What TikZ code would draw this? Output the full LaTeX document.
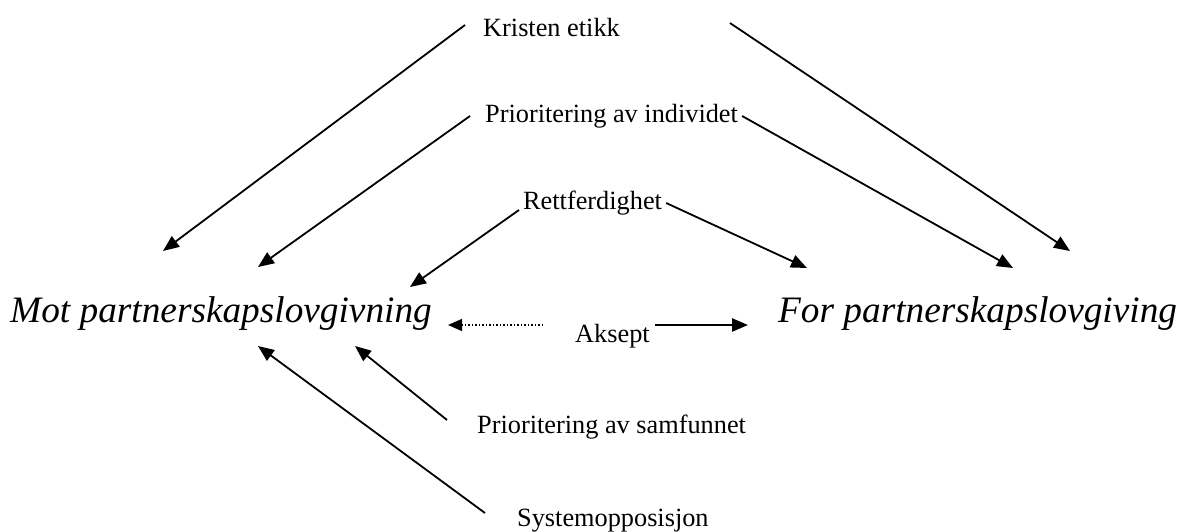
\documentclass[tikz,border=0pt]{standalone}
\usepackage{fontspec}
\setmainfont{Liberation Serif}
\usetikzlibrary{arrows.meta, calc}

\begin{document}
\begin{tikzpicture}[
  x=1pt, y=-1pt,
  lbl/.style={inner sep=0pt, anchor=base west, font=\fontsize{26.3}{30}\selectfont},
  bigtxt/.style={inner sep=0pt, anchor=base west, font=\fontsize{37.3}{42}\selectfont\itshape},
  arr/.style={-{Triangle[length=16pt, width=13pt]}, line width=1.8pt},
  thickarr/.style={-{Triangle[length=16pt, width=13pt]}, line width=2.6pt},
  dotarr/.style={-{Triangle[length=14pt, width=12pt]}, line width=1.5pt, dotted}
]
  \useasboundingbox (0,0) rectangle (1179,531);

  % labels
  \node[lbl] (kristen) at (483,36) {Kristen etikk};
  \node[lbl] (individ) at (485,122) {Prioritering av individet};
  \node[lbl] (rett) at (523,209) {Rettferdighet};
  \node[lbl] (aksept) at (575,342) {Aksept};
  \node[lbl] (samf) at (477,433) {Prioritering av samfunnet};
  \node[lbl] (system) at (517,526) {Systemopposisjon};
  \node[bigtxt] (mot) at (10,322) {Mot partnerskapslovgivning};
  \node[bigtxt] (for) at (778,322) {For partnerskapslovgiving};

  % arrow tips
  \coordinate (motK) at (163,251);
  \coordinate (motI) at (258,267);
  \coordinate (motR) at (410,287);
  \coordinate (motS) at (355,346);
  \coordinate (motY) at (258,346);
  \coordinate (forK) at (1070,251);
  \coordinate (forI) at (1013,268);
  \coordinate (forR) at (807,268);

  \draw[arr] ($(kristen.base west)+(-18,-11)$) -- (motK);
  \draw[arr] ($(kristen.base east)+(110,-13)$) -- (forK);
  \draw[arr] ($(individ.base west)+(-15,-6)$) -- (motI);
  \draw[arr] ($(individ.base east)+(4,-6)$) -- (forI);
  \draw[arr] ($(rett.base west)+(-4,1)$) -- (motR);
  \draw[arr] ($(rett.base east)+(4,-6)$) -- (forR);
  \draw[dotarr] ($(aksept.base west)+(-32,-17)$) -- ($(mot.base east)+(16,3)$);
  \draw[thickarr] ($(aksept.base east)+(5,-17)$) -- ($(for.base west)+(-30,3)$);
  \draw[arr] ($(samf.base west)+(-30,-13)$) -- (motS);
  \draw[arr] ($(system.base west)+(-32,-13)$) -- (motY);
\end{tikzpicture}
\end{document}
